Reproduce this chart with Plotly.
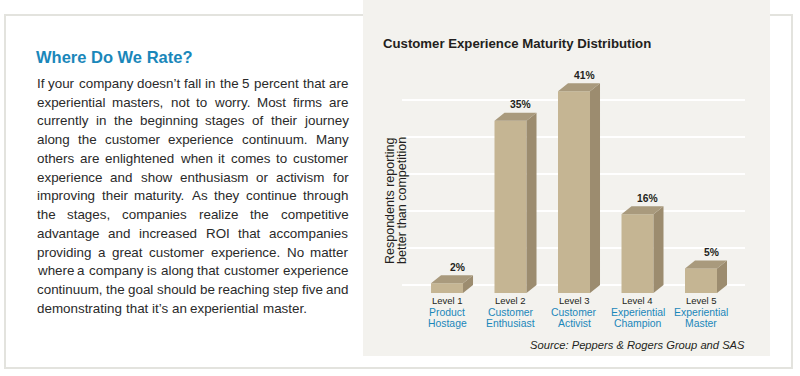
import plotly.graph_objects as go

# ---------------- data ----------------
levels = ["Level 1", "Level 2", "Level 3", "Level 4", "Level 5"]
stage_line1 = ["Product", "Customer", "Customer", "Experiential", "Experiential"]
stage_line2 = ["Hostage", "Enthusiast", "Activist", "Champion", "Master"]
values = [2, 35, 41, 16, 5]
grid_values = [0, 7.5, 15, 22.5, 30, 37.5]

chart_title = "Customer Experience Maturity Distribution"
y_title_lines = ["Respondents reporting", "better than competition"]
source_text = "Source: Peppers & Rogers Group and SAS"
heading = "Where Do We Rate?"
paragraph_lines = [
    "If your company doesn\u2019t fall in the 5 percent that are",
    "experiential masters, not to worry. Most firms are",
    "currently in the beginning stages of their journey",
    "along the customer experience continuum. Many",
    "others are enlightened when it comes to customer",
    "experience and show enthusiasm or activism for",
    "improving their maturity. As they continue through",
    "the stages, companies realize the competitive",
    "advantage and increased ROI that accompanies",
    "providing a great customer experience. No matter",
    "where a company is along that customer experience",
    "continuum, the goal should be reaching step five and",
    "demonstrating that it\u2019s an experiential master.",
]

# ---------------- layout constants ----------------
W, H = 800, 376
ML, MR, MT, MB = 402, 55, 77, 83
PW = W - ML - MR
PH = H - MT - MB
YMAX = 43.9
XMIN, XMAX = -0.709, 4.693
PX_PER_CAT = PW / (XMAX - XMIN)
PX_PER_Y = PH / YMAX
BAR_W = 32 / PX_PER_CAT
DX = 10 / PX_PER_CAT
DY = 8 / PX_PER_Y

FONT = "Liberation Sans, Arial, Helvetica, sans-serif"
DARK = "#231f20"
BLUE = "#1a87ba"
FRONT = "#c5b593"
TOP = "#a99a7d"
SIDE = "#9c8c6f"
PANEL = "#f3f2ee"


def px(xp):
    return (xp - ML) / PW


def py(yp):
    return 1 - (yp - MT) / PH


# Arial / Liberation Sans advance widths (1/1000 em)
AW = {' ': 278, ',': 278, '.': 278, '\u2019': 222, "'": 191, '?': 556, '5': 556,
      'A': 667, 'I': 278, 'M': 833, 'N': 722, 'O': 778, 'R': 722,
      'a': 556, 'b': 556, 'c': 500, 'd': 556, 'e': 556, 'f': 278, 'g': 556,
      'h': 556, 'i': 222, 'j': 222, 'k': 500, 'l': 222, 'm': 833, 'n': 556,
      'o': 556, 'p': 556, 'q': 556, 'r': 333, 's': 500, 't': 278, 'u': 556,
      'v': 500, 'w': 722, 'x': 500, 'y': 500, 'z': 500}


def tw(s, size):
    return sum(AW.get(c, 556) for c in s) * size / 1000.0


fig = go.Figure()

# front faces
x_idx = list(range(len(values)))
fig.add_trace(go.Bar(x=x_idx, y=values, width=BAR_W, marker=dict(color=FRONT, line=dict(width=0)),
                     hoverinfo="skip", showlegend=False))

# top and side faces derived from the values
top_x, top_y, side_x, side_y = [], [], [], []
for i, v in zip(x_idx, values):
    l, r = i - BAR_W / 2, i + BAR_W / 2
    top_x += [l, r, r + DX, l + DX, l, None]
    top_y += [v, v, v + DY, v + DY, v, None]
    side_x += [r, r + DX, r + DX, r, r, None]
    side_y += [0, DY, v + DY, v, 0, None]

fig.add_trace(go.Scatter(x=side_x, y=side_y, mode="lines", fill="toself", fillcolor=SIDE,
                         line=dict(width=0, color=SIDE), hoverinfo="skip", showlegend=False))
fig.add_trace(go.Scatter(x=top_x, y=top_y, mode="lines", fill="toself", fillcolor=TOP,
                         line=dict(width=0, color=TOP), hoverinfo="skip", showlegend=False))

ann = []
# value labels
for i, v in zip(x_idx, values):
    ann.append(dict(text=f"<b>{v}%</b>", x=i + DX, y=v + DY, xref="x", yref="y",
                    yanchor="middle", yshift=8, showarrow=False,
                    font=dict(family=FONT, size=10.3, color=DARK)))

# category labels
for i in x_idx:
    ann.append(dict(text=levels[i], x=i, y=py(300.7), xref="x", yref="paper", yanchor="middle",
                    showarrow=False, font=dict(family=FONT, size=9.5, color=DARK)))
    ann.append(dict(text=stage_line1[i], x=i, y=py(312), xref="x", yref="paper", yanchor="middle",
                    showarrow=False, font=dict(family=FONT, size=10.4, color=BLUE)))
    ann.append(dict(text=stage_line2[i], x=i, y=py(323.3), xref="x", yref="paper", yanchor="middle",
                    showarrow=False, font=dict(family=FONT, size=10.4, color=BLUE)))

# chart title, y-title, source
ann.append(dict(text=f"<b>{chart_title}</b>", x=px(381.5), y=py(43.5), xref="paper", yref="paper",
                xanchor="left", yanchor="middle", showarrow=False, borderpad=0,
                font=dict(family=FONT, size=13.2, color=DARK)))
for k, (line, xc) in enumerate(zip(y_title_lines, [390, 402])):
    ann.append(dict(text=line, x=px(xc), y=py(201), xref="paper", yref="paper", textangle=-90,
                    xanchor="center", yanchor="middle", showarrow=False, borderpad=0,
                    font=dict(family=FONT, size=12.5, color=DARK)))
ann.append(dict(text=f"<i>{source_text}</i>", x=px(746), y=py(344.5), xref="paper", yref="paper",
                xanchor="right", yanchor="middle", showarrow=False, borderpad=0,
                font=dict(family=FONT, size=11.2, color=DARK)))

# left text panel
ann.append(dict(text=f"<b>{heading}</b>", x=px(35.5), y=py(57), xref="paper", yref="paper",
                xanchor="left", yanchor="middle", showarrow=False, borderpad=0,
                font=dict(family=FONT, size=16.5, color=BLUE)))

P_SIZE = 13.4
LEFT, RIGHT = 36.0, 347.3
Y0, LH = 83.3, 18.75
for n, line in enumerate(paragraph_lines):
    words = line.split(" ")
    widths = [tw(w, P_SIZE) for w in words]
    if n < len(paragraph_lines) - 1 and len(words) > 1:
        gap = (RIGHT - LEFT - sum(widths)) / (len(words) - 1)
    else:
        gap = tw(" ", P_SIZE)
    x = LEFT
    yc = Y0 + n * LH
    for w, wd in zip(words, widths):
        ann.append(dict(text=w, x=px(x), y=py(yc), xref="paper", yref="paper",
                        xanchor="left", yanchor="middle", showarrow=False, borderpad=0,
                        font=dict(family=FONT, size=P_SIZE, color="#2a2a2a")))
        x += wd + gap

shapes = [
    dict(type="rect", xref="paper", yref="paper", x0=px(5), x1=px(792), y0=py(15), y1=py(368),
         line=dict(color="#e3e3de", width=2), fillcolor="rgba(0,0,0,0)", layer="below"),
    dict(type="rect", xref="paper", yref="paper", x0=px(363), x1=px(770), y0=py(0), y1=py(356),
         line=dict(width=0), fillcolor=PANEL, layer="below"),
]

fig.update_layout(
    width=W, height=H,
    margin=dict(l=ML, r=MR, t=MT, b=MB, pad=0),
    paper_bgcolor="white", plot_bgcolor="rgba(0,0,0,0)",
    showlegend=False,
    annotations=ann, shapes=shapes,
    xaxis=dict(range=[XMIN, XMAX], showgrid=False, zeroline=False, showticklabels=False,
               showline=False, ticks="", fixedrange=True),
    yaxis=dict(range=[0, YMAX], tickvals=[g + DY for g in grid_values], showticklabels=False,
               showgrid=True, gridcolor="white", gridwidth=2, zeroline=False, showline=False,
               ticks="", fixedrange=True),
)

fig.write_html("out.html", config={"displayModeBar": False},
               post_script="document.body.style.margin='0';document.body.style.padding='0';")
